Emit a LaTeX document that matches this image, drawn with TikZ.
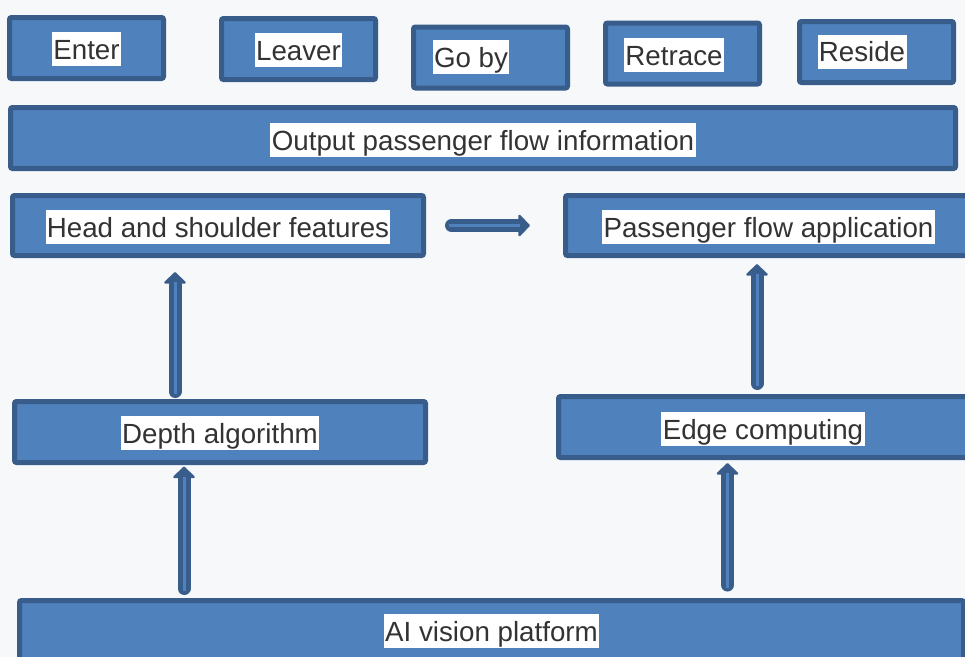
\documentclass[tikz,border=0pt]{standalone}
\usepackage{fontspec}
\setmainfont{Liberation Sans}
\usetikzlibrary{arrows.meta,calc}
\definecolor{boxfill}{RGB}{79,129,189}
\definecolor{boxline}{RGB}{56,93,138}
\definecolor{bgcol}{RGB}{246,248,250}
\definecolor{txtcol}{RGB}{51,51,51}

\begin{document}
\begin{tikzpicture}[x=0.75pt,y=-0.75pt,
  box node/.style={draw=boxline,fill=boxfill,line width=3.75pt,rounded corners=1.5pt,inner sep=0pt,outer sep=0pt},
  small box/.style={box node,minimum width=115.5pt,minimum height=45.75pt},
  text node/.style={fill=white,text=txtcol,inner sep=0pt,inner xsep=1pt,text height=20.25pt,text depth=5.25pt,font=\fontsize{20.8pt}{24pt}\selectfont},
  flow arrow/.style={draw=boxline,line width=9.75pt,line cap=round,-{Triangle[width=18pt,length=9pt,line width=1.5pt,round]}},
  flow core/.style={draw=boxfill,line width=2.25pt,shorten >=7.5pt,shorten <=-2pt}]

  \useasboundingbox[fill=bgcol] (0,0) rectangle (965,657);

  % row of passenger states
  \node[small box] (enter) at (86.5,48) {};
  \node[small box] (leaver) at (298.5,49) {};
  \node[small box] (goby) at (490.5,57.5) {};
  \node[small box] (retrace) at (682.5,53.5) {};
  \node[small box] (reside) at (876.5,52) {};
  \node[text node] (enter-t) at (86.5,49) {Enter};
  \node[text node] (leaver-t) at (298.5,50) {Leaver};
  \node[text node] (goby-t) at (471,57) {Go by};
  \node[text node] (retrace-t) at (674,55) {Retrace};
  \node[text node] (reside-t) at (862,51.5) {Reside};

  \node[box node,minimum width=708.75pt,minimum height=45.75pt] (output) at (483,138) {};
  \node[text node] (output-t) at (483,140) {Output passenger flow information};

  \node[box node,minimum width=308.25pt,minimum height=45pt] (head) at (218,225.5) {};
  \node[box node,minimum width=304.5pt,minimum height=45pt] (pass) at (768.5,225.5) {};
  \node[text node] (head-t) at (218,227) {Head and shoulder features};
  \node[text node] (pass-t) at (768.5,227) {Passenger flow application};

  \node[box node,minimum width=308.25pt,minimum height=45.75pt] (depth) at (220,432) {};
  \node[box node,minimum width=306.75pt,minimum height=45.75pt] (edge) at (763,427) {};
  \node[text node] (depth-t) at (220,433) {Depth algorithm};
  \node[text node] (edge-t) at (763,429) {Edge computing};

  \node[box node,minimum width=708pt,minimum height=45.75pt] (ai) at (491.5,631) {};
  \node[text node] (ai-t) at (491.5,631) {AI vision platform};

  % hollow arrows between the blocks
  \draw[flow arrow] ($(head.east)+(28,0)$) -- ($(pass.west)+(-35.5,0)$);
  \draw[flow core] ($(head.east)+(28,0)$) -- ($(pass.west)+(-35.5,0)$);

  \draw[flow arrow] ($(depth.north)+(-45,-10)$) -- ($(head.south)+(-43,16.5)$);
  \draw[flow core] ($(depth.north)+(-45,-10)$) -- ($(head.south)+(-43,16.5)$);

  \draw[flow arrow] ($(ai.north)+(-307.5,-12)$) -- ($(depth.south)+(-36,4)$);
  \draw[flow core] ($(ai.north)+(-307.5,-12)$) -- ($(depth.south)+(-36,4)$);

  \draw[flow arrow] ($(ai.north)+(236,-15.5)$) -- ($(edge.south)+(-35.5,5.5)$);
  \draw[flow core] ($(ai.north)+(236,-15.5)$) -- ($(edge.south)+(-35.5,5.5)$);

  \draw[flow arrow] ($(edge.north)+(-6,-13)$) -- ($(pass.south)+(-11.5,8.5)$);
  \draw[flow core] ($(edge.north)+(-6,-13)$) -- ($(pass.south)+(-11.5,8.5)$);

\end{tikzpicture}
\end{document}
